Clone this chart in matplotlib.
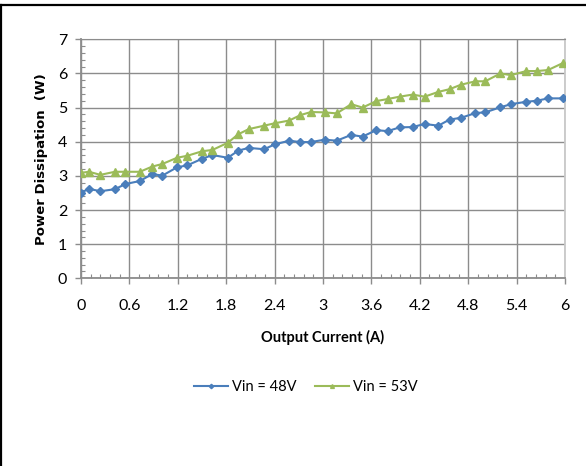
import numpy as np
import matplotlib
matplotlib.use("Agg")
import matplotlib.pyplot as plt
from matplotlib.lines import Line2D
from matplotlib.ticker import MultipleLocator

# ─── Data ───────────────────────────────────────────────────────────────────

current = [0.00, 0.10, 0.24, 0.42, 0.55, 0.73, 0.88, 1.01, 1.19, 1.32,
           1.50, 1.63, 1.82, 1.95, 2.08, 2.27, 2.40, 2.58, 2.72, 2.85,
           3.02, 3.17, 3.35, 3.49, 3.66, 3.80, 3.95, 4.11, 4.26, 4.43,
           4.57, 4.71, 4.89, 5.01, 5.20, 5.33, 5.52, 5.65, 5.79, 5.97]

p_48v = [2.51, 2.62, 2.55, 2.61, 2.76, 2.85, 3.05, 3.01, 3.25, 3.31,
         3.50, 3.61, 3.53, 3.74, 3.82, 3.78, 3.92, 4.03, 3.99, 3.99,
         4.06, 4.03, 4.20, 4.15, 4.34, 4.31, 4.42, 4.43, 4.52, 4.47,
         4.65, 4.70, 4.84, 4.86, 5.01, 5.10, 5.17, 5.20, 5.27, 5.27]

p_53v = [3.09, 3.12, 3.03, 3.12, 3.12, 3.12, 3.27, 3.35, 3.53, 3.59,
         3.72, 3.76, 3.97, 4.22, 4.37, 4.47, 4.54, 4.62, 4.78, 4.87,
         4.86, 4.83, 5.10, 5.00, 5.19, 5.25, 5.32, 5.38, 5.32, 5.46,
         5.54, 5.67, 5.77, 5.77, 6.00, 5.95, 6.07, 6.07, 6.10, 6.30]

labels = ["Vin = 48V", "Vin = 53V"]
x_ticks = [0, 0.6, 1.2, 1.8, 2.4, 3, 3.6, 4.2, 4.8, 5.4, 6]
x_tick_labels = ["0", "0.6", "1.2", "1.8", "2.4", "3", "3.6", "4.2", "4.8", "5.4", "6"]

# ─── Style ───────────────────────────────────────────────────────────────────

NARROW = ["Lato", "DejaVu Sans"]
BLUE = "#4a7ebb"
GREEN = "#9bbb59"
GRID = "#8c8c8c"

W, H = 586, 466
fig = plt.figure(figsize=(W / 100, H / 100), dpi=100)
ax = fig.add_axes([81 / W, 1 - 278.3 / H, (565 - 81) / W, (278.3 - 39.3) / H])

ax.plot(current, p_48v, color=BLUE, lw=1.5, marker="D", ms=4.5,
        mec=BLUE, mfc=BLUE, label=labels[0], zorder=3)
ax.plot(current, p_53v, color=GREEN, lw=1.5, marker="^", ms=5.5,
        mec=GREEN, mfc=GREEN, label=labels[1], zorder=3)

ax.set_xlim(0, 6)
ax.set_ylim(0, 7)
ax.set_xticks(x_ticks)
ax.set_xticklabels(x_tick_labels, family=NARROW, fontsize=11.5)
ax.set_yticks(range(8))
ax.set_yticklabels([str(v) for v in range(8)], family=NARROW, fontsize=11.5)
ax.xaxis.set_minor_locator(MultipleLocator(0.12))
ax.yaxis.set_minor_locator(MultipleLocator(0.2))

ax.tick_params(axis="x", which="major", direction="out", length=4, width=1,
               color=GRID, pad=11)
ax.tick_params(axis="y", which="major", direction="out", length=4, width=1,
               color=GRID, pad=6)
ax.tick_params(which="minor", direction="in", length=3, width=0.8, color=GRID)

ax.grid(True, which="major", color=GRID, lw=1.0)
ax.set_axisbelow(True)
for side in ["left", "bottom"]:
    ax.spines[side].set_color(GRID)
    ax.spines[side].set_linewidth(1.3)
ax.spines["top"].set_color(GRID)
ax.spines["right"].set_color("#c8c8c8")
ax.spines["right"].set_linewidth(1.3)

ax.set_xlabel("Output Current (A)", family=NARROW, fontsize=10.5,
              fontweight="bold", labelpad=12)
ax.set_ylabel("Power Dissipation  (W)", family="DejaVu Sans", fontsize=9.5,
              fontweight="bold", labelpad=7)

fig.legend(loc="center", bbox_to_anchor=(306 / W, 1 - 387 / H), ncol=2,
           frameon=False, prop={"family": NARROW, "size": 10.5},
           handlelength=2.3, columnspacing=1.3, handletextpad=0.3,
           markerscale=0.5)

# outer frame (only top and left edges remain in the crop)
fig.add_artist(Line2D([0, 1], [1 - 4.5 / H, 1 - 4.5 / H],
                      transform=fig.transFigure, color="black", lw=1.6))
fig.add_artist(Line2D([1 / W, 1 / W], [0, 1 - 4.5 / H],
                      transform=fig.transFigure, color="black", lw=1.6))

fig.savefig("out.png", dpi=100)
